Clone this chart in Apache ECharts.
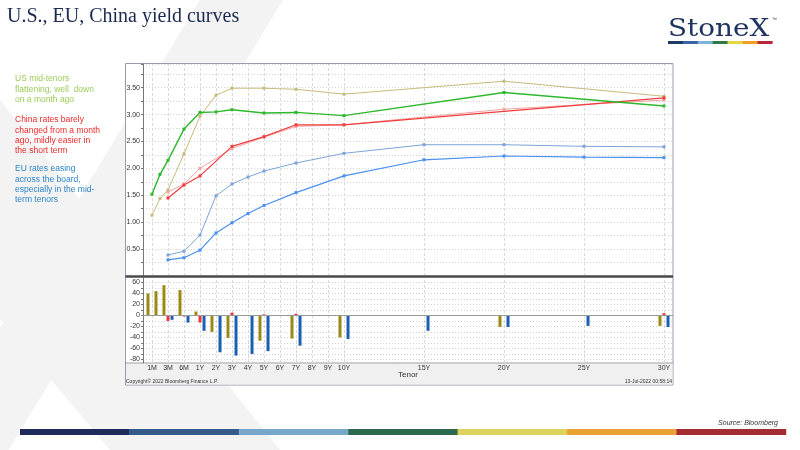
<!DOCTYPE html>
<html>
<head>
<meta charset="utf-8">
<script src="https://cdn.jsdelivr.net/npm/echarts@6/dist/echarts.min.js"></script>
<style>
html,body{margin:0;padding:0;background:#fff;}
#c{width:800px;height:450px;}
</style>
</head>
<body>
<div id="c"></div>
<script>
// ---- data ----
const tenors   = ['1M','2M','3M','6M','1Y','2Y','3Y','4Y','5Y','6Y','7Y','8Y','9Y','10Y','15Y','20Y','25Y','30Y'];
const tenorPos = [-3, -2.5, -2, -1, 0, 1, 2, 3, 4, 5, 6, 7, 8, 9, 14, 19, 24, 29];
const tickTenors = ['1M','3M','6M','1Y','2Y','3Y','4Y','5Y','6Y','7Y','8Y','9Y','10Y','15Y','20Y','25Y','30Y'];

const usNow   = [1.52,1.89,2.15,2.73,3.04,3.05,3.09,null,3.03,null,3.04,null,null,2.98,null,3.41,null,3.16];
const usAgo   = [1.13,1.44,1.60,2.27,2.97,3.36,3.49,null,3.49,null,3.47,null,null,3.38,null,3.62,null,3.34];
const cnNow   = [null,null,1.45,1.69,1.86,null,2.41,null,2.59,null,2.81,null,null,2.81,null,null,null,3.31];
const cnAgo   = [null,null,1.56,1.71,2.00,null,2.37,null,2.58,null,2.78,null,null,2.81,null,3.10,null,3.27];
const euNow   = [null,null,0.30,0.34,0.48,0.80,0.99,1.16,1.31,null,1.55,null,null,1.86,2.16,2.23,2.21,2.20];
const euAgo   = [null,null,0.39,0.46,0.76,1.49,1.71,1.84,1.95,null,2.10,null,null,2.28,2.44,2.44,2.41,2.40];

const usChg   = [40,44,55,46,7,-30,-41,null,-46,null,-42,null,null,-40,null,-21,null,-19];
const cnChg   = [null,null,-10,-2,-13,null,5,null,2,null,3,null,null,0.5,null,null,null,4];
const euChg   = [null,null,-8,-13,-28,-67,-73,-70,-65,null,-55,null,null,-43,-28,-21,-19,-21];

const yTopLabels = [0.5,1.0,1.5,2.0,2.5,3.0,3.5];
const yBotLabels = [60,40,20,0,-20,-40,-60,-80];
const yBotGrid   = [60,50,40,30,20,10,0,-10,-20,-30,-40,-50,-60,-70,-80];

// ---- helpers ----
function pairs(vals){ return tenorPos.map((p,i)=>[p, vals[i]]).filter(d=>d[1]!==null); }
const tickPos = tickTenors.map(t => tenorPos[tenors.indexOf(t)]);
function tenorLabel(v){ const i = tenorPos.indexOf(v); return i>=0 ? tenors[i] : ''; }

const xBase = {type:'value', min:-3.5625, max:29.5625};

const chart = echarts.init(document.getElementById('c'), null, {renderer:'canvas'});

function line(name, vals, color, width){
  return {
    name, type:'line', xAxisIndex:0, yAxisIndex:0, data:pairs(vals),
    symbol:'rect', symbolSize:3, showSymbol:true,
    lineStyle:{color, width}, itemStyle:{color},
    emphasis:{disabled:true}, animation:false
  };
}
function bars(name, vals, color, extra){
  return Object.assign({
    name, type:'bar', xAxisIndex:1, yAxisIndex:1, data:pairs(vals),
    barWidth:3, barGap:'34%', itemStyle:{color}, animation:false
  }, extra||{});
}
function vGrid(xi, yi){
  return {
    type:'line', xAxisIndex:xi, yAxisIndex:yi, data:[], silent:true, animation:false,
    markLine:{silent:true, symbol:'none', animation:false, z:1, label:{show:false},
      lineStyle:{color:'#dadada', type:[3,2], width:1},
      data:tickPos.map(p=>({xAxis:p}))}
  };
}

const stripe = ['#1f2a5c','#335a88','#78a8c9','#2e6a4e','#ddd35c','#eba334','#a32d31'];
const logoStripe = ['#1f3864','#3a63a8','#7fb0d8','#2f7a4a','#e3d640','#f0a020','#b8283a'];

const graphics = [
  {type:'polygon', z:-30, shape:{points:[[200,0],[283,0],[0,464],[0,328]]}, style:{fill:'#f3f3f3'}},
  {type:'polygon', z:-30, shape:{points:[[0,100],[0,319],[110,450],[280,450]]}, style:{fill:'#f3f3f3'}},
  {type:'text', z:10, x:7, y:16.5, style:{text:'U.S., EU, China yield curves', fill:'#1c2950', font:'20px "Liberation Serif", serif', textVerticalAlign:'middle'}},
  {type:'text', z:10, x:668, y:30, scaleX:1.16, style:{text:'StoneX', fill:'#1e3560', font:'24px "DejaVu Serif", serif', textVerticalAlign:'middle'}},
  {type:'text', z:10, x:772, y:20, style:{text:'™', fill:'#1e3560', font:'5px "Liberation Sans", sans-serif', textVerticalAlign:'middle'}},
  {type:'text', z:10, x:15, y:74, style:{text:'US mid-tenors\nflattening, well  down\non a month ago', fill:'#9ccc5a', font:'8.5px "Liberation Sans", Arial, sans-serif', lineHeight:10.2, textVerticalAlign:'top'}},
  {type:'text', z:10, x:15, y:115, style:{text:'China rates barely\nchanged from a month\nago, mildly easier in\nthe short term', fill:'#ee2a2a', font:'8.5px "Liberation Sans", Arial, sans-serif', lineHeight:10.2, textVerticalAlign:'top'}},
  {type:'text', z:10, x:15, y:164, style:{text:'EU rates easing\nacross the board,\nespecially in the mid-\nterm tenors', fill:'#2f86c8', font:'8.5px "Liberation Sans", Arial, sans-serif', lineHeight:10.2, textVerticalAlign:'top'}},
  {type:'rect', z:-10, shape:{x:125.5, y:63.5, width:547.5, height:321.5}, style:{fill:'#ffffff', stroke:'#9a9aae', lineWidth:1}},
  {type:'rect', z:-9, shape:{x:126, y:363, width:546.5, height:21.5}, style:{fill:'#f0f0f0', stroke:null}},
  {type:'line', z:-8, shape:{x1:126, y1:363, x2:673, y2:363}, style:{stroke:'#a0a0a0', lineWidth:1}},
  {type:'line', z:50, shape:{x1:125.5, y1:276.5, x2:673, y2:276.5}, style:{stroke:'#4a4a4a', lineWidth:2.5}},
  {type:'text', z:10, x:408, y:375, style:{text:'Tenor', fill:'#333', font:'8px "Liberation Sans", sans-serif', textAlign:'center', textVerticalAlign:'middle'}},
  {type:'text', z:10, x:126, y:382, style:{text:'Copyright© 2022 Bloomberg Finance L.P.', fill:'#333', font:'5px "Liberation Sans", sans-serif', textVerticalAlign:'middle'}},
  {type:'text', z:10, x:672, y:382, style:{text:'13-Jul-2022 00:58:14', fill:'#333', font:'5px "Liberation Sans", sans-serif', textAlign:'right', textVerticalAlign:'middle'}},
  {type:'text', z:10, x:778, y:423, style:{text:'Source: Bloomberg', fill:'#333', font:'italic 7px "Liberation Sans", sans-serif', textAlign:'right', textVerticalAlign:'middle'}}
];
stripe.forEach((c,i)=>graphics.push({type:'rect', z:5, shape:{x:20+i*109.4, y:429, width:109.8, height:6}, style:{fill:c}}));
logoStripe.forEach((c,i)=>graphics.push({type:'rect', z:5, shape:{x:668+i*14.9, y:41, width:15.2, height:3}, style:{fill:c}}));

chart.setOption({
  animation:false,
  backgroundColor:'#ffffff',
  graphic:{elements:graphics},
  grid:[
    {left:143, right:127, top:64, height:212},
    {left:143, right:127, top:278, height:85}
  ],
  xAxis:[
    Object.assign({}, xBase, {gridIndex:0, axisLine:{show:false, onZero:false}, axisLabel:{show:false},
      axisTick:{show:false}, splitLine:{show:false}}),
    Object.assign({}, xBase, {gridIndex:1, axisLine:{show:false, onZero:false},
      axisTick:{show:false, customValues:tickPos},
      axisLabel:{customValues:tickPos, formatter:tenorLabel, fontSize:7, color:'#333', margin:2, fontFamily:'"Liberation Sans", sans-serif'},
      splitLine:{show:false}})
  ],
  yAxis:[
    {type:'value', gridIndex:0, min:0, max:3.94, interval:0.25,
      axisLine:{show:true, onZero:false, lineStyle:{color:'#777'}},
      axisTick:{show:true, length:2, lineStyle:{color:'#777'}},
      axisLabel:{customValues:yTopLabels, formatter:v=>v.toFixed(2), fontSize:7, color:'#333', margin:3, fontFamily:'"Liberation Sans", sans-serif'},
      splitLine:{show:true, lineStyle:{color:'#d4d4d4', type:[1,2], width:1}}},
    {type:'value', gridIndex:1, min:-86.5, max:68,
      axisLine:{show:true, onZero:false, lineStyle:{color:'#777'}},
      axisTick:{show:true, length:2, customValues:yBotGrid, lineStyle:{color:'#777'}},
      axisLabel:{customValues:yBotLabels, fontSize:7, color:'#333', margin:3, fontFamily:'"Liberation Sans", sans-serif'},
      splitLine:{show:true, lineStyle:{color:'#d4d4d4', type:[1,2], width:1}}}
  ],
  series:[
    vGrid(0,0),
    vGrid(1,1),
    line('US month ago', usAgo, '#c8ba7c', 1),
    line('EU month ago', euAgo, '#7ea3d6', 1),
    line('EU now', euNow, '#4a90f0', 1.2),
    line('China month ago', cnAgo, '#f4a4a4', 1),
    line('China now', cnNow, '#f03c3c', 1.2),
    line('US now', usNow, '#2db82d', 1.4),
    bars('US chg', usChg, '#9b8a12'),
    bars('China chg', cnChg, '#e8343a'),
    bars('EU chg', euChg, '#1a5fb4', {markLine:{silent:true, symbol:'none', animation:false,
      label:{show:false}, lineStyle:{color:'#9a9a9a', type:'solid', width:1}, data:[{yAxis:0}]}})
  ]
});
</script>
</body>
</html>
